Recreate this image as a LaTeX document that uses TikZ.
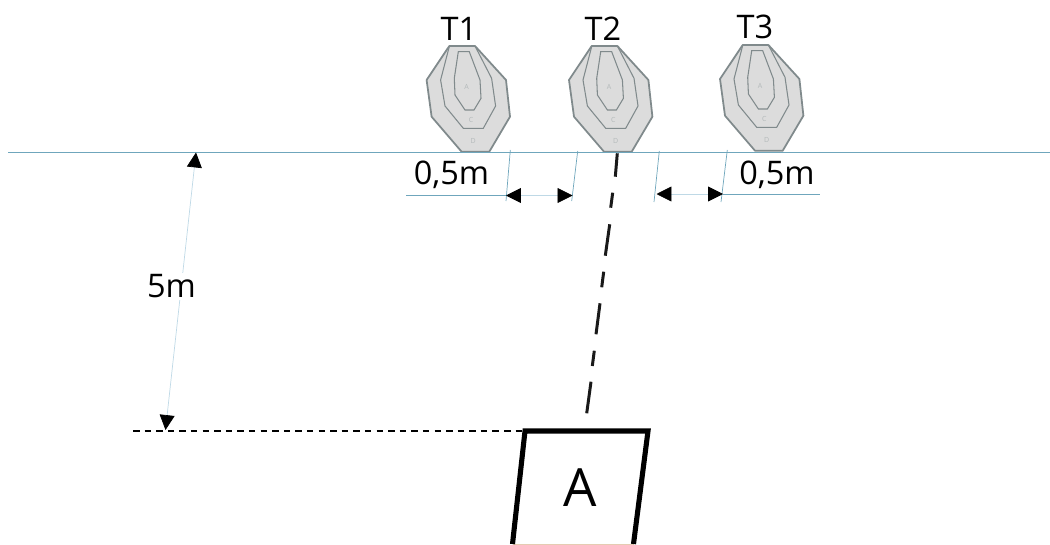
\documentclass[tikz,border=0pt]{standalone}
\usepackage{fontspec}
\setmainfont{Open Sans}
\usetikzlibrary{positioning,calc,arrows.meta}
\definecolor{lineblue}{HTML}{6FA6BC}
\definecolor{paleblue}{HTML}{BFD9E6}
\definecolor{targetgrey}{HTML}{DCDCDC}
\definecolor{targetedge}{HTML}{808A8C}
\tikzset{
    toplabel/.style={font=\fontsize{18.5}{18.5}\selectfont, inner sep=0pt},
    ticks/.style={draw=lineblue, line width=0.4pt},
    dimtip/.style={{Triangle[length=8.5pt,width=8.5pt,color=black]}-{Triangle[length=8.5pt,width=8.5pt,color=black]}, draw=paleblue, line width=0.4pt},
    tinyletter/.style={font=\fontsize{4}{4}\selectfont, text=targetedge!60, inner sep=0pt},
    aimline/.style={line width=1.7pt, black!90},
}
% one target, origin at the left end of its top edge
\newcommand{\targetshape}[3]{%
    \begin{scope}[shift={(#1,#2)}]
        \draw[fill=targetgrey, draw=targetedge, line width=1pt, line join=round] (0,0) -- (25.7,0) -- (56.7,34) -- (60.7,70.7) -- (40,105.7) -- (12.3,105.7) -- (-17.7,70.7) -- (-22.7,34) -- cycle;
        \draw[draw=targetedge, line width=0.6pt] (0,0.5) -- (-8.7,34) -- (-4.3,60) -- (14,82.3) -- (34,82.3) -- (46.3,60) -- (42.3,32.3) -- (25.7,0);
        \draw[draw=targetedge, line width=0.6pt] (9,5.7) -- (20,5.7) -- (30.7,34) -- (31.7,52.3) -- (24.7,64) -- (15.7,64) -- (5.7,49) -- (5,32.3) -- cycle;
        \node[tinyletter] (#3a) at (17.3,40.7) {A};
        \node[tinyletter] (#3c) at (21.7,74) {C};
        \node[tinyletter] (#3d) at (24,95) {D};
    \end{scope}
}
\begin{document}
\begin{tikzpicture}[x=0.02cm, y=-0.02cm]
    \useasboundingbox (0,0) rectangle (1050,544);

    \targetshape{449.3}{46}{ta}
    \targetshape{591.7}{46}{tb}
    \targetshape{742.7}{45}{tc}
    \node[toplabel] (labelone) at (459,29) {T1};
    \node[toplabel] (labeltwo) at (603,29) {T2};
    \node[toplabel] (labelthree) at (755,27) {T3};

    % ground line
    \coordinate (groundl) at (8,152);
    \coordinate (groundr) at (1050,152);
    \draw[ticks] (groundl) -- (groundr);

    % spacing ticks
    \draw[ticks] (510.3,150) coordinate (ta1) -- (506,201) coordinate (ta2);
    \draw[ticks] (577.7,151) coordinate (tb1) -- (571.7,201) coordinate (tb2);
    \draw[ticks] (659.3,151) coordinate (tc1) -- (654,202) coordinate (tc2);
    \draw[ticks] (727.3,150) coordinate (td1) -- (721,202) coordinate (td2);

    % spacing arrows
    \coordinate (dima) at (506,195.5);
    \coordinate (dimb) at (572.5,195.5);
    \coordinate (dimc) at (656.5,194);
    \coordinate (dimd) at (723,194);
    \draw[dimtip] (dima) -- (dimb);
    \draw[dimtip] (dimc) -- (dimd);
    \coordinate (leadl) at (406,195.5);
    \coordinate (leadr) at (820,194);
    \draw[ticks] (leadl) -- (dima);
    \draw[ticks] (dimd) -- (leadr);
    \node[toplabel] (halfl) at (451.5,175) {0,5m};
    \node[toplabel] (halfr) at (777,175) {0,5m};

    % aim line
    \draw[aimline] (617.3,153.3) -- (615.3,176.7);
    \draw[aimline] (612.7,192.7) -- (610.7,207.7);
    \draw[aimline] (609.7,224.3) -- (605.3,255.7);
    \draw[aimline] (603.7,271.7) -- (601.7,287.3);
    \draw[aimline] (600,303.3) -- (596,334.3);
    \draw[aimline] (594.3,350.7) -- (592.3,366);
    \draw[aimline] (591,381.7) -- (586.7,413.3);

    % distance to the start box
    \coordinate (disttop) at (196,152.5);
    \coordinate (distbot) at (165.5,430);
    \draw[dimtip] (disttop) -- (distbot);
    \node[toplabel, fill=white, inner sep=1pt] (distlabel) at (171.5,286.5) {5m};
    \coordinate (dashl) at (133,431);
    \draw[dash pattern=on 3.7pt off 2.9pt, line width=0.7pt, black] (dashl) -- (525,431);

    % start box
    \coordinate (boxtl) at (525,431);
    \coordinate (boxtr) at (648,431);
    \coordinate (boxbl) at (512.5,544);
    \coordinate (boxbr) at (633.5,544);
    \draw[draw=brown!40, line width=0.5pt] (boxbl) -- (boxbr);
    \draw[line width=2.9pt, black, line join=miter] (boxbl) -- (boxtl) -- (boxtr) -- (boxbr);
    \node[inner sep=0pt, font=\fontsize{30}{30}\selectfont] (startlabel) at (580,488) {A};
\end{tikzpicture}
\end{document}
